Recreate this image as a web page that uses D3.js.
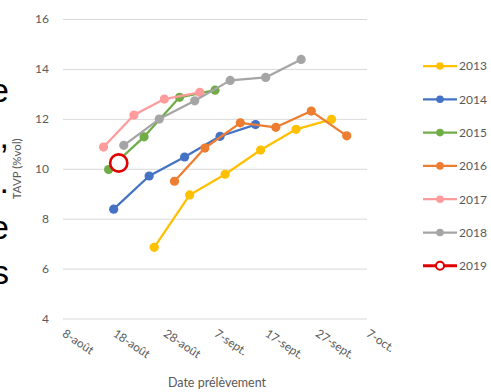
<!DOCTYPE html>
<html>
<head>
<meta charset="utf-8">
<script src="https://cdn.jsdelivr.net/npm/d3@7"></script>
<style>
  html, body { margin: 0; padding: 0; background: #fff; }
  svg { display: block; }
  text { font-family: Lato, "Open Sans", sans-serif; }
</style>
</head>
<body>
<svg id="chart" width="491" height="392"></svg>
<script>
// Sampling dates (day-month, plotted on a shared season axis) and TAVP values
const years = ["2013", "2014", "2015", "2016", "2017", "2018", "2019"];
const dates2013 = ["08-26", "09-02", "09-09", "09-16", "09-23", "09-30"];
const tavp2013  = [6.85, 8.95, 9.78, 10.75, 11.58, 11.98];
const dates2014 = ["08-18", "08-25", "09-01", "09-08", "09-15"];
const tavp2014  = [8.38, 9.71, 10.47, 11.30, 11.77];
const dates2015 = ["08-17", "08-24", "08-31", "09-07"];
const tavp2015  = [9.97, 11.28, 12.86, 13.15];
const dates2016 = ["08-30", "09-05", "09-12", "09-19", "09-26", "10-03"];
const tavp2016  = [9.50, 10.83, 11.84, 11.66, 12.31, 11.32];
const dates2017 = ["08-16", "08-22", "08-28", "09-04"];
const tavp2017  = [10.87, 12.15, 12.79, 13.06];
const dates2018 = ["08-20", "08-27", "09-03", "09-10", "09-17", "09-24"];
const tavp2018  = [10.94, 11.99, 12.72, 13.54, 13.66, 14.38];
const dates2019 = ["08-19"];
const tavp2019  = [10.23];

const xTickDates  = ["08-08", "08-18", "08-28", "09-07", "09-17", "09-27", "10-07"];
const xTickLabels = ["8-août", "18-août", "28-août", "7-sept.", "17-sept.", "27-sept.", "7-oct."];
const yTicks = [4, 6, 8, 10, 12, 14, 16];

const colors = ["#FFC000", "#4472C4", "#70AD47", "#ED7D31", "#FF9B9B", "#A5A5A5", "#E00000"];

// Fragments of paragraph text cut off at the left edge
const sideText = ["e", ",", ".", "e", "s"];

const parse = d3.timeParse("%Y-%m-%d");
const toDate = s => parse("2019-" + s);

const seriesDates = [dates2013, dates2014, dates2015, dates2016, dates2017, dates2018, dates2019];
const seriesVals  = [tavp2013, tavp2014, tavp2015, tavp2016, tavp2017, tavp2018, tavp2019];
const series = years.map((y, i) => ({
  year: y,
  color: colors[i],
  points: seriesDates[i].map((d, j) => ({ date: toDate(d), v: seriesVals[i][j] }))
}));

const svg = d3.select("#chart");
const margin = { left: 63, right: 124, top: 19, bottom: 74 };
const W = 491, H = 392;

const x = d3.scaleTime()
  .domain([toDate(xTickDates[0]), toDate(xTickDates[xTickDates.length - 1])])
  .range([margin.left, W - margin.right]);
const y = d3.scaleLinear()
  .domain([4, 16])
  .range([H - margin.bottom + 0.5, margin.top]);

// Gridlines + y labels
const yAxis = svg.append("g")
  .attr("transform", `translate(${margin.left},0)`)
  .call(d3.axisLeft(y).tickValues(yTicks).tickSize(-(W - margin.right - margin.left)).tickPadding(14));
yAxis.select(".domain").remove();
yAxis.selectAll(".tick line").attr("stroke", "#d9d9d9").attr("stroke-width", 1);
yAxis.selectAll(".tick text")
  .attr("fill", "#595959")
  .style("font-size", "12px");

// x axis labels (rotated)
const xAxis = svg.append("g")
  .attr("transform", `translate(0,${y(4)})`)
  .call(d3.axisBottom(x)
    .tickValues(xTickDates.map(toDate))
    .tickFormat((d, i) => xTickLabels[i])
    .tickSize(0));
xAxis.select(".domain").remove();
xAxis.selectAll(".tick text")
  .attr("fill", "#595959")
  .style("font-size", "11.8px")
  .attr("text-anchor", "start")
  .attr("x", 0)
  .attr("y", 0)
  .attr("dy", 0)
  .attr("transform", "translate(-2,17) rotate(34)");

// Axis titles
svg.append("text")
  .attr("x", (margin.left + W - margin.right) / 2 + 2)
  .attr("y", 387)
  .attr("text-anchor", "middle")
  .attr("fill", "#595959")
  .style("font-size", "12.5px")
  .text("Date prélèvement");

svg.append("text")
  .attr("transform", `translate(21,${(y(4) + y(16)) / 2}) rotate(-90)`)
  .attr("text-anchor", "middle")
  .attr("fill", "#595959")
  .style("font-size", "11.5px")
  .text("TAVP (%vol)");

// Series lines and markers
const line = d3.line().x(d => x(d.date)).y(d => y(d.v));
series.forEach((s, i) => {
  const g = svg.append("g");
  g.append("path")
    .datum(s.points)
    .attr("fill", "none")
    .attr("stroke", s.color)
    .attr("stroke-width", 2.25)
    .attr("stroke-linejoin", "round")
    .attr("d", line);
  const open = s.year === "2019";
  g.selectAll("circle")
    .data(s.points)
    .join("circle")
    .attr("cx", d => x(d.date))
    .attr("cy", d => y(d.v))
    .attr("r", open ? 8.6 : 4.6)
    .attr("fill", open ? "#fff" : s.color)
    .attr("stroke", open ? s.color : "none")
    .attr("stroke-width", open ? 2.6 : 0);
});

// Legend
const legend = svg.append("g").attr("transform", "translate(423,66)");
series.forEach((s, i) => {
  const open = s.year === "2019";
  const g = legend.append("g").attr("transform", `translate(0,${i * 33.3})`);
  g.append("line")
    .attr("x1", 0).attr("x2", 34)
    .attr("stroke", s.color)
    .attr("stroke-width", open ? 3 : 2.25);
  g.append("circle")
    .attr("cx", 17).attr("cy", 0)
    .attr("r", open ? 4 : 3.8)
    .attr("fill", open ? "#fff" : s.color)
    .attr("stroke", open ? s.color : "none")
    .attr("stroke-width", open ? 2 : 0);
  g.append("text")
    .attr("x", 36).attr("y", 0)
    .attr("dy", "0.36em")
    .attr("fill", "#595959")
    .style("font-size", "12px")
    .text(s.year);
});

// Cut-off paragraph text at the left edge
svg.append("g").selectAll("text")
  .data(sideText)
  .join("text")
  .attr("x", 9)
  .attr("y", (d, i) => 102 + i * 45.5)
  .attr("text-anchor", "end")
  .attr("fill", "#000")
  .style("font-family", "'Liberation Sans', Arial, sans-serif")
  .style("font-size", "34px")
  .text(d => d);
</script>
</body>
</html>
